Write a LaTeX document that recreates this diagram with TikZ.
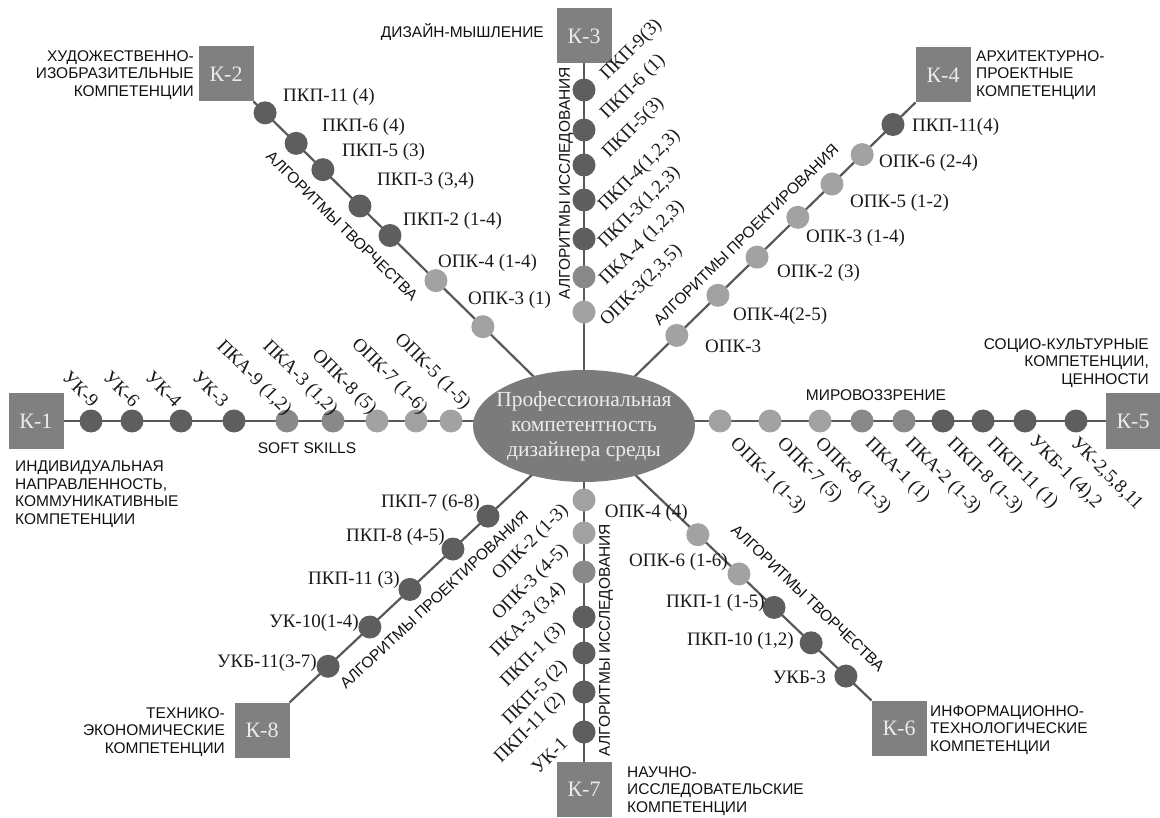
\documentclass[tikz,border=0pt]{standalone}
\usepackage{fontspec}
\setmainfont{Liberation Serif}
\newfontfamily\capsans{Liberation Sans}
\usetikzlibrary{calc,shapes.geometric,backgrounds}
\definecolor{lineg}{HTML}{585858}
\definecolor{boxg}{HTML}{808080}
\definecolor{ellg}{HTML}{7B7B7B}
\definecolor{dlight}{HTML}{A2A2A2}
\definecolor{dmid}{HTML}{898989}
\definecolor{ddark}{HTML}{5E5E5E}
\definecolor{txt}{HTML}{1A1A1A}
\definecolor{ctxt}{HTML}{111111}
\definecolor{wtxt}{HTML}{EBEBEB}
\tikzset{
  kbox/.style={fill=boxg, minimum width=55pt, minimum height=55pt, inner sep=0pt, outer sep=0pt, text=wtxt, font=\fontsize{22}{22}\selectfont},
  conn/.style={draw=lineg, line width=2.2pt},
  dotbase/.style={circle, minimum size=23pt, inner sep=0pt},
  dotL/.style={dotbase, fill=dlight},
  dotM/.style={dotbase, fill=dmid},
  dotD/.style={dotbase, fill=ddark},
  lab/.style={text=txt, font=\fontsize{19}{19}\selectfont, inner sep=0pt},
  captxt/.style={text=ctxt, font=\capsans\fontsize{15.5}{17.5}\selectfont, inner sep=0pt},
}
\begin{document}
\begin{tikzpicture}[x=1pt,y=-1pt]
\useasboundingbox (0,0) rectangle (1160,818);
% centre
\node[ellipse, fill=ellg, minimum width=222pt, minimum height=112pt, inner sep=0pt] (ell) at (584,426) {};
\node[align=center, text=wtxt, font=\fontsize{21.5}{25}\selectfont, inner sep=0pt] (elltext) at (ell.center) {Профессиональная\\компетентность\\дизайнера среды};
% boxes
\node[kbox] (k1) at (36,421) {К-1};
\node[kbox] (k2) at (226,74) {К-2};
\node[kbox] (k3) at (584,36) {К-3};
\node[kbox] (k4) at (943,75) {К-4};
\node[kbox] (k5) at (1133,421) {К-5};
\node[kbox] (k6) at (899,728) {К-6};
\node[kbox] (k7) at (584,789) {К-7};
\node[kbox] (k8) at (262,730) {К-8};
% connectors
\begin{scope}[on background layer]
\fill[white] (0,0) rectangle (1160,818);
\draw[conn] (k1.east) -- (k1.east -| ell.center);
\draw[conn] (k5.west) -- (k5.west -| ell.center);
\draw[conn] (k3.south) -- (ell.center);
\draw[conn] (k7.north) -- (ell.center);
\draw[conn] (k2.south east) -- (ell.center);
\draw[conn] (k4.south west) -- (ell.center);
\draw[conn] (k6.north west) -- (ell.center);
\draw[conn] (k8.north east) -- (ell.center);
\end{scope}
% K-1 dots
\node[dotD] (d1a) at (91,421) {};
\node[dotD] (d1b) at (132,421) {};
\node[dotD] (d1c) at (181,421) {};
\node[dotD] (d1d) at (234,421) {};
\node[dotM] (d1e) at (287,421) {};
\node[dotM] (d1f) at (333,421) {};
\node[dotL] (d1g) at (377,421) {};
\node[dotL] (d1h) at (416,421) {};
\node[dotL] (d1i) at (451,421) {};
% K-5 dots
\node[dotL] (d5a) at (720,421) {};
\node[dotL] (d5b) at (770,421) {};
\node[dotL] (d5c) at (820,421) {};
\node[dotM] (d5d) at (862,421) {};
\node[dotM] (d5e) at (904,421) {};
\node[dotD] (d5f) at (943,421) {};
\node[dotD] (d5g) at (983,421) {};
\node[dotD] (d5h) at (1025,421) {};
\node[dotD] (d5i) at (1076,421) {};
% K-3 dots
\node[dotD] (d3a) at (584,90) {};
\node[dotD] (d3b) at (584,130) {};
\node[dotD] (d3c) at (584,165) {};
\node[dotD] (d3d) at (584,200) {};
\node[dotD] (d3e) at (584,239) {};
\node[dotM] (d3f) at (584,277) {};
\node[dotL] (d3g) at (584,312) {};
% K-7 dots
\node[dotL] (d7a) at (584,500) {};
\node[dotL] (d7b) at (584,533) {};
\node[dotM] (d7c) at (584,572) {};
\node[dotD] (d7d) at (584,617) {};
\node[dotD] (d7e) at (584,653) {};
\node[dotD] (d7f) at (584,692) {};
\node[dotD] (d7g) at (584,732) {};
% K-2 dots
\node[dotD] (d2a) at ($(k2.south east)!0.035!(ell.center)$) {};
\node[dotD] (d2b) at ($(k2.south east)!0.129!(ell.center)$) {};
\node[dotD] (d2c) at ($(k2.south east)!0.210!(ell.center)$) {};
\node[dotD] (d2d) at ($(k2.south east)!0.322!(ell.center)$) {};
\node[dotD] (d2e) at ($(k2.south east)!0.413!(ell.center)$) {};
\node[dotL] (d2f) at ($(k2.south east)!0.552!(ell.center)$) {};
\node[dotL] (d2g) at ($(k2.south east)!0.694!(ell.center)$) {};
% K-4 dots
\node[dotD] (d4a) at ($(k4.south west)!0.068!(ell.center)$) {};
\node[dotL] (d4b) at ($(k4.south west)!0.161!(ell.center)$) {};
\node[dotL] (d4c) at ($(k4.south west)!0.252!(ell.center)$) {};
\node[dotL] (d4d) at ($(k4.south west)!0.355!(ell.center)$) {};
\node[dotL] (d4e) at ($(k4.south west)!0.478!(ell.center)$) {};
\node[dotL] (d4f) at ($(k4.south west)!0.596!(ell.center)$) {};
\node[dotL] (d4g) at ($(k4.south west)!0.720!(ell.center)$) {};
% K-8 dots
\node[dotD] (d8a) at ($(k8.north east)!0.131!(ell.center)$) {};
\node[dotD] (d8b) at ($(k8.north east)!0.273!(ell.center)$) {};
\node[dotD] (d8c) at ($(k8.north east)!0.409!(ell.center)$) {};
\node[dotD] (d8d) at ($(k8.north east)!0.555!(ell.center)$) {};
\node[dotD] (d8e) at ($(k8.north east)!0.674!(ell.center)$) {};
% K-6 dots
\node[dotD] (d6a) at ($(k6.north west)!0.089!(ell.center)$) {};
\node[dotD] (d6b) at ($(k6.north west)!0.210!(ell.center)$) {};
\node[dotD] (d6c) at ($(k6.north west)!0.339!(ell.center)$) {};
\node[dotL] (d6d) at ($(k6.north west)!0.461!(ell.center)$) {};
\node[dotL] (d6e) at ($(k6.north west)!0.604!(ell.center)$) {};
% K-2 labels
\node[lab, anchor=west] (l2a) at (283,97) {ПКП-11 (4)};
\node[lab, anchor=west] (l2b) at (322,127) {ПКП-6 (4)};
\node[lab, anchor=west] (l2c) at (342,152) {ПКП-5 (3)};
\node[lab, anchor=west] (l2d) at (377,181) {ПКП-3 (3,4)};
\node[lab, anchor=west] (l2e) at (403,221) {ПКП-2 (1-4)};
\node[lab, anchor=west] (l2f) at (438,263) {ОПК-4 (1-4)};
\node[lab, anchor=west] (l2g) at (468,300) {ОПК-3 (1)};
% K-4 labels
\node[lab, anchor=west] (l4a) at (912,127) {ПКП-11(4)};
\node[lab, anchor=west] (l4b) at (879,163) {ОПК-6 (2-4)};
\node[lab, anchor=west] (l4c) at (850,203) {ОПК-5 (1-2)};
\node[lab, anchor=west] (l4d) at (806,238) {ОПК-3 (1-4)};
\node[lab, anchor=west] (l4e) at (777,273) {ОПК-2 (3)};
\node[lab, anchor=west] (l4f) at (733,316) {ОПК-4(2-5)};
\node[lab, anchor=west] (l4g) at (705,346) {ОПК-3};
% K-8 labels
\node[lab, anchor=east] (l8a) at (480,503) {ПКП-7 (6-8)};
\node[lab, anchor=east] (l8b) at (445,537) {ПКП-8 (4-5)};
\node[lab, anchor=east] (l8c) at (400,580) {ПКП-11 (3)};
\node[lab, anchor=east] (l8d) at (359,623) {УК-10(1-4)};
\node[lab, anchor=east] (l8e) at (317,663) {УКБ-11(3-7)};
% K-6 labels
\node[lab, anchor=east] (l6a) at (688,513) {ОПК-4 (4)};
\node[lab, anchor=east] (l6b) at (728,562) {ОПК-6 (1-6)};
\node[lab, anchor=east] (l6c) at (765,603) {ПКП-1 (1-5)};
\node[lab, anchor=east] (l6d) at (794,641) {ПКП-10 (1,2)};
\node[lab, anchor=east] (l6e) at (826,677) {УКБ-3};
% K-3 labels
\node[lab, rotate=45, anchor=south west] (l3a) at (610,84) {ПКП-9(3)};
\node[lab, rotate=45, anchor=south west] (l3b) at (610,123) {ПКП-6 (1)};
\node[lab, rotate=45, anchor=south west] (l3c) at (612,162) {ПКП-5(3)};
\node[lab, rotate=45, anchor=south west] (l3d) at (608,215) {ПКП-4(1,2,3)};
\node[lab, rotate=45, anchor=south west] (l3e) at (608,252) {ПКП-3(1,2,3)};
\node[lab, rotate=45, anchor=south west] (l3f) at (609,289) {ПКА-4 (1,2,3)};
\node[lab, rotate=45, anchor=south west] (l3g) at (610,330) {ОПК-3(2,3,5)};
% K-7 labels
\node[lab, rotate=45, anchor=south east] (l7a) at (572,514) {ОПК-2 (1-3)};
\node[lab, rotate=45, anchor=south east] (l7b) at (572,554) {ОПК-3 (4-5)};
\node[lab, rotate=45, anchor=south east] (l7c) at (569,592) {ПКА-3 (3,4)};
\node[lab, rotate=45, anchor=south east] (l7d) at (569,632) {ПКП-1 (3)};
\node[lab, rotate=45, anchor=south east] (l7e) at (571,670) {ПКП-5 (2)};
\node[lab, rotate=45, anchor=south east] (l7f) at (569,702) {ПКП-11 (2)};
\node[lab, rotate=45, anchor=south east] (l7g) at (569,745) {УК-1};
% K-1 labels
\node[lab, rotate=-45, anchor=south east] (l1a) at (91,409) {УК-9};
\node[lab, rotate=-45, anchor=south east] (l1b) at (132,409) {УК-6};
\node[lab, rotate=-45, anchor=south east] (l1c) at (174,409) {УК-4};
\node[lab, rotate=-45, anchor=south east] (l1d) at (221,409) {УК-3};
\node[lab, rotate=-45, anchor=south east] (l1e) at (282,419) {ПКА-9 (1,2)};
\node[lab, rotate=-45, anchor=south east] (l1f) at (328,419) {ПКА-3 (1,2)};
\node[lab, rotate=-45, anchor=south east] (l1g) at (367,418) {ОПК-8 (5)};
\node[lab, rotate=-45, anchor=south east] (l1h) at (418,418) {ОПК-7 (1-6)};
\node[lab, rotate=-45, anchor=south east] (l1i) at (461,413) {ОПК-5 (1-5)};
% K-5 labels
\node[lab, rotate=-45, anchor=north west] (l5a) at (739,435) {ОПК-1 (1-3)};
\node[lab, rotate=-45, anchor=north west] (l5b) at (786,435) {ОПК-7 (5)};
\node[lab, rotate=-45, anchor=north west] (l5c) at (824,435) {ОПК-8 (1-3)};
\node[lab, rotate=-45, anchor=north west] (l5d) at (874,435) {ПКА-1 (1)};
\node[lab, rotate=-45, anchor=north west] (l5e) at (914,435) {ПКА-2 (1-3)};
\node[lab, rotate=-45, anchor=north west] (l5f) at (956,435) {ПКП-8 (1-3)};
\node[lab, rotate=-45, anchor=north west] (l5g) at (996,435) {ПКП-11 (1)};
\node[lab, rotate=-45, anchor=north west] (l5h) at (1038,433) {УКБ-1 (4),2};
\node[lab, rotate=-45, anchor=north west] (l5i) at (1079,435) {УК-2,5,8,11};
% captions
\node[captxt, anchor=east] (dmt) at (544,32) {ДИЗАЙН-МЫШЛЕНИЕ};
\node[captxt, anchor=east, align=right] (c2) at (194,75) {ХУДОЖЕСТВЕННО-\\ИЗОБРАЗИТЕЛЬНЫЕ\\КОМПЕТЕНЦИИ};
\node[captxt, anchor=west, align=left] (c4) at (976,75) {АРХИТЕКТУРНО-\\ПРОЕКТНЫЕ\\КОМПЕТЕНЦИИ};
\node[captxt, anchor=east, align=right] (c5) at (1149,363) {СОЦИО-КУЛЬТУРНЫЕ\\КОМПЕТЕНЦИИ,\\ЦЕННОСТИ};
\node[captxt, anchor=west, align=left] (c1) at (15,494) {ИНДИВИДУАЛЬНАЯ\\НАПРАВЛЕННОСТЬ,\\КОММУНИКАТИВНЫЕ\\КОМПЕТЕНЦИИ};
\node[captxt, anchor=east, align=right] (c8) at (225,732) {ТЕХНИКО-\\ЭКОНОМИЧЕСКИЕ\\КОМПЕТЕНЦИИ};
\node[captxt, anchor=west, align=left] (c7) at (627,791) {НАУЧНО-\\ИССЛЕДОВАТЕЛЬСКИЕ\\КОМПЕТЕНЦИИ};
\node[captxt, anchor=west, align=left] (c6) at (930,730) {ИНФОРМАЦИОННО-\\ТЕХНОЛОГИЧЕСКИЕ\\КОМПЕТЕНЦИИ};
\node[captxt] (ss) at (307,448) {SOFT SKILLS};
\node[captxt] (mv) at (876,395) {МИРОВОЗЗРЕНИЕ};
\node[captxt, rotate=-44.5] (a2) at (342,226) {АЛГОРИТМЫ ТВОРЧЕСТВА};
\node[captxt, rotate=90] (a3) at (566,183) {АЛГОРИТМЫ ИССЛЕДОВАНИЯ};
\node[captxt, rotate=44.3] (a4) at (746,235) {АЛГОРИТМЫ ПРОЕКТИРОВАНИЯ};
\node[captxt, rotate=43.2] (a8) at (434,600) {АЛГОРИТМЫ ПРОЕКТИРОВАНИЯ};
\node[captxt, rotate=90] (a7) at (606,640) {АЛГОРИТМЫ ИССЛЕДОВАНИЯ};
\node[captxt, rotate=-43.7] (a6) at (808,598) {АЛГОРИТМЫ ТВОРЧЕСТВА};
\end{tikzpicture}
\end{document}
